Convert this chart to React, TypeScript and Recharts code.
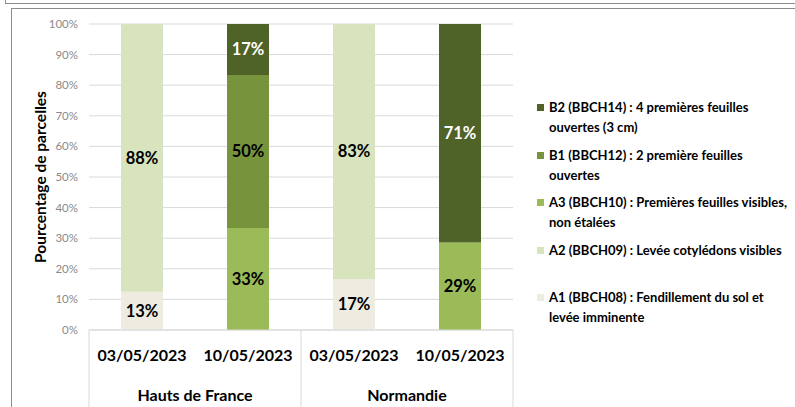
import React from "react";
import { BarChart, Bar, XAxis, YAxis, CartesianGrid, LabelList } from "recharts";

const dates = ["03/05/2023", "10/05/2023", "03/05/2023", "10/05/2023"];
const regions = ["Hauts de France", "Hauts de France", "Normandie", "Normandie"];

const a1 = [12.5, 0, 16.7, 0];
const a2 = [87.5, 0, 83.3, 0];
const a3 = [0, 33.3, 0, 28.6];
const b1 = [0, 50, 0, 0];
const b2 = [0, 16.7, 0, 71.4];

const yTicks = [0, 10, 20, 30, 40, 50, 60, 70, 80, 90, 100];

const series = [
  { key: "a1", name: "A1 (BBCH08) : Fendillement du sol et\nlevée imminente", color: "#EEECE1", label: "#000" },
  { key: "a2", name: "A2 (BBCH09) : Levée cotylédons visibles", color: "#D7E4BD", label: "#000" },
  { key: "a3", name: "A3 (BBCH10) : Premières feuilles visibles,\nnon étalées", color: "#9BBB59", label: "#000" },
  { key: "b1", name: "B1 (BBCH12) : 2 première feuilles\nouvertes", color: "#77933C", label: "#000" },
  { key: "b2", name: "B2 (BBCH14) : 4 premières feuilles\nouvertes (3 cm)", color: "#4F6228", label: "#fff" },
];

const data = dates.map((d, i) => ({
  date: d,
  region: regions[i],
  a1: a1[i],
  a2: a2[i],
  a3: a3[i],
  b1: b1[i],
  b2: b2[i],
}));

const W = 795;
const H = 407;
const M = { top: 24, right: 282, bottom: 0, left: 0 };
const Y_W = 89;
const X_H = H - M.top - 306;
const band = (W - M.left - M.right - Y_W) / dates.length;
const FONT = "Lato, 'Open Sans', sans-serif";

function XTick(props: any) {
  const { x, y, payload } = props;
  const i = payload.index;
  const top = y - 8;
  return (
    <g>
      <text x={x} y={top + 31} textAnchor="middle" fontSize={16} fontWeight={700} fill="#000" fontFamily={FONT}>
        {payload.value}
      </text>
      {i % 2 === 0 && (
        <>
          <text x={x + band / 2} y={top + 71} textAnchor="middle" fontSize={16} fontWeight={700} fill="#000" fontFamily={FONT}>
            {regions[i]}
          </text>
          <line x1={x - band / 2} x2={x - band / 2} y1={top} y2={H} stroke="#d9d9d9" />
        </>
      )}
      {i === dates.length - 1 && <line x1={x + band / 2} x2={x + band / 2} y1={top} y2={H} stroke="#d9d9d9" />}
    </g>
  );
}

function LegendBox() {
  const items = [...series].reverse();
  return (
    <div style={{ position: "absolute", left: 537, top: 97, width: 258, fontFamily: FONT, fontSize: 13, fontWeight: 700, color: "#000" }}>
      {items.map((s) => (
        <div key={s.key} style={{ position: "relative", height: 47.5, paddingLeft: 12, lineHeight: "20px", whiteSpace: "pre-line" }}>
          <span style={{ position: "absolute", left: 0, top: 7, width: 7, height: 7, background: s.color }} />
          {s.name}
        </div>
      ))}
    </div>
  );
}

export default function App() {
  return (
    <div style={{ position: "relative", width: W, height: H, background: "#fff", overflow: "hidden" }}>
      <style>{`body{margin:0}`}</style>
      <div style={{ position: "absolute", left: 5, top: -2, right: -2, height: 5, borderLeft: "1px solid #8c8c8c", borderBottom: "1px solid #8c8c8c" }} />
      <div style={{ position: "absolute", left: 11, top: 8, right: -2, bottom: -2, borderLeft: "1px solid #8c8c8c", borderTop: "1px solid #8c8c8c" }} />
      <div style={{ position: "absolute", left: 0, top: 0 }}>
        <BarChart width={W} height={H} data={data} margin={M} barSize={42}>
          <CartesianGrid vertical={false} stroke="#d9d9d9" />
          <XAxis
            dataKey="date"
            height={X_H}
            interval={0}
            tickLine={false}
            axisLine={{ stroke: "#d9d9d9" }}
            tick={<XTick />}
          />
          <YAxis
            width={Y_W}
            domain={[0, 100]}
            ticks={yTicks}
            tickFormatter={(v) => `${v}%`}
            axisLine={false}
            tickLine={false}
            tickSize={0}
            tickMargin={11}
            tick={{ fontSize: 11.5, fill: "#8a8a8a", fontFamily: FONT }}
            label={{
              content: ({ viewBox }: any) => (
                <text
                  x={viewBox.x + 40}
                  y={viewBox.y + viewBox.height / 2}
                  transform={`rotate(-90 ${viewBox.x + 40} ${viewBox.y + viewBox.height / 2})`}
                  textAnchor="middle"
                  dominantBaseline="central"
                  fontSize={15.5}
                  fontWeight={700}
                  fill="#000"
                  fontFamily={FONT}
                >
                  Pourcentage de parcelles
                </text>
              ),
            }}
          />
          {series.map((s) => (
            <Bar key={s.key} dataKey={s.key} name={s.name} stackId="s" fill={s.color} isAnimationActive={false}>
              <LabelList
                dataKey={s.key}
                position="center"
                formatter={(v: any) => (Number(v) > 0 ? `${Math.round(Number(v))}%` : "")}
                fill={s.label}
                fontSize={16.5}
                fontWeight={700}
                fontFamily={FONT}
              />
            </Bar>
          ))}
        </BarChart>
      </div>
      <LegendBox />
    </div>
  );
}
